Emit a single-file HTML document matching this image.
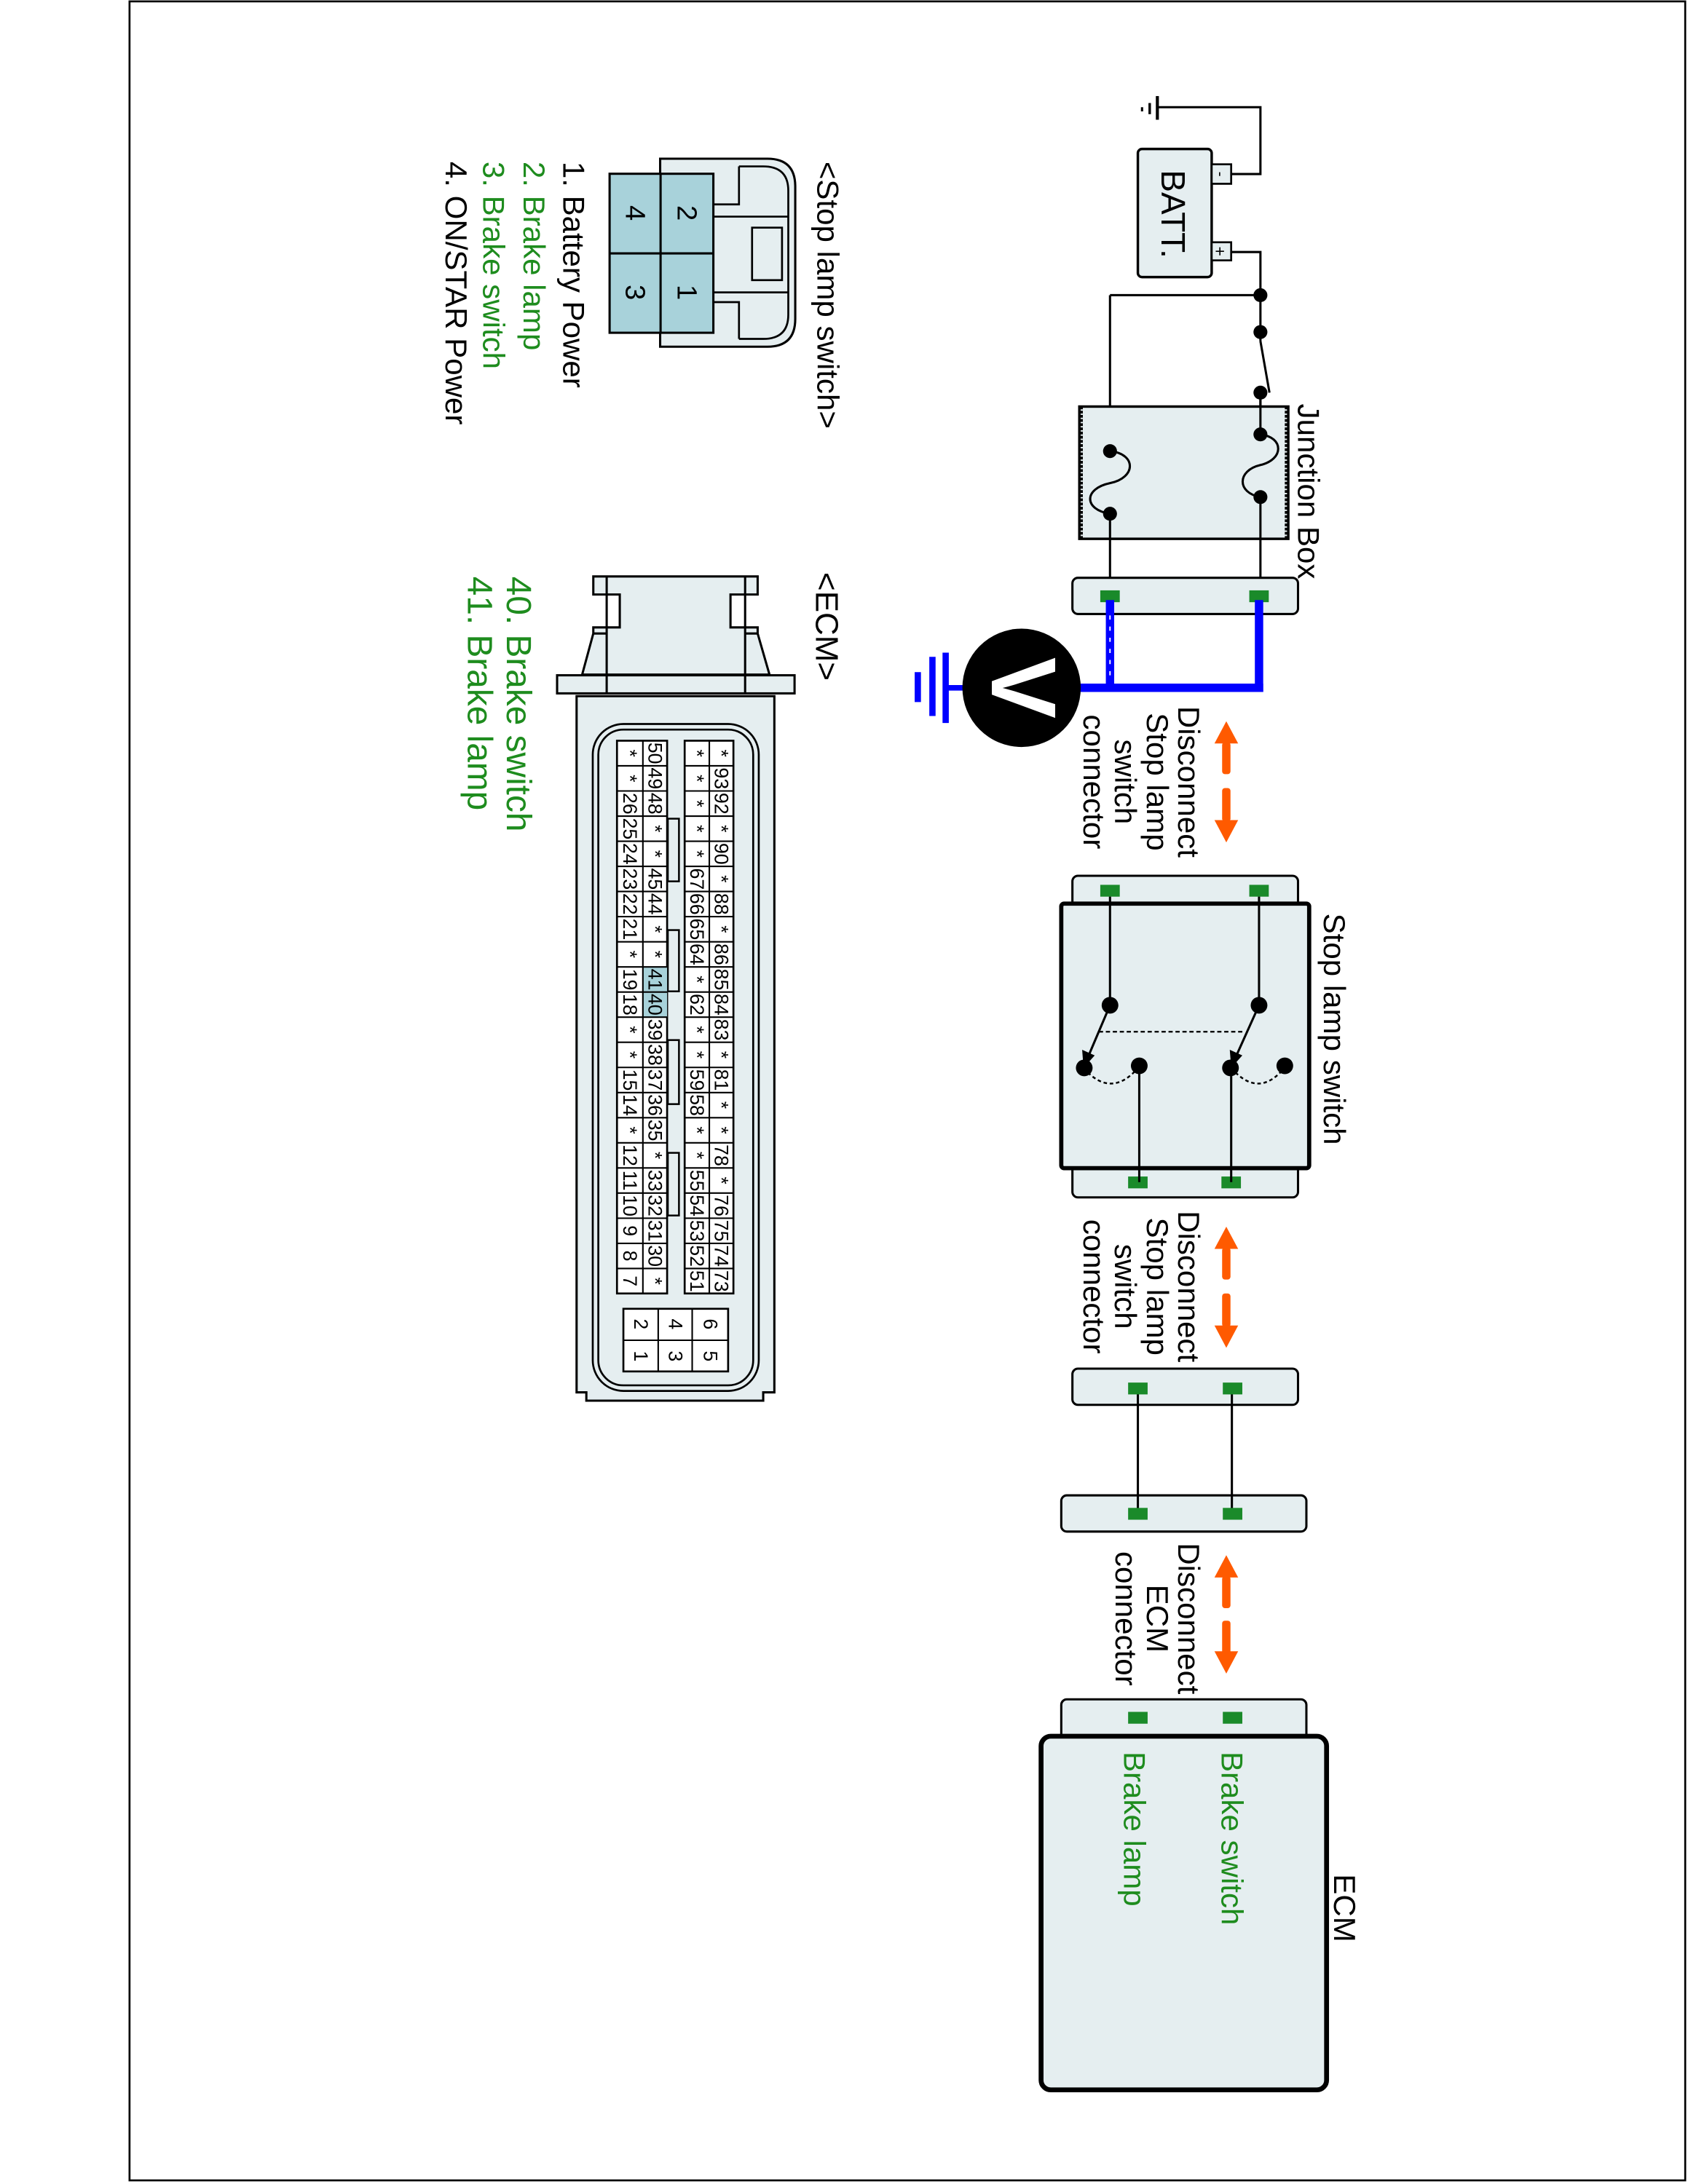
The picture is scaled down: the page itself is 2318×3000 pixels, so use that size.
<!DOCTYPE html>
<html><head><meta charset="utf-8"><style>
html,body{margin:0;padding:0;background:#fff;}
svg{display:block;}
text{font-family:"Liberation Sans",Arial,sans-serif;}
</style></head><body>
<svg width="2318" height="3000" viewBox="0 0 1212 1568.6" xmlns="http://www.w3.org/2000/svg">
<rect x="93" y="1" width="1117" height="1565" fill="none" stroke="#000" stroke-width="1.4"/>

<!-- Ground + battery -->
<g stroke="#000" fill="none" stroke-width="1.6">
<polyline points="884,125 905,125 905,77 831,77"/>
<line x1="831" y1="69" x2="831" y2="86" stroke-width="2.2"/>
<line x1="825.5" y1="74" x2="825.5" y2="82" stroke-width="1.8"/>
<line x1="820" y1="77" x2="820" y2="80" stroke-width="1.6"/>
<polyline points="884,181 905,181 905,245"/>
<line x1="905" y1="212" x2="797" y2="212"/>
<line x1="797" y1="212" x2="797" y2="324"/>
<line x1="905" y1="245" x2="911.5" y2="282"/>
<line x1="905" y1="282" x2="905" y2="312"/>
</g>
<rect x="817" y="107" width="53" height="92" rx="3" fill="#e5eef0" stroke="#000" stroke-width="1.8"/>
<rect x="870" y="118" width="14" height="14" fill="#e5eef0" stroke="#000" stroke-width="1.4"/>
<rect x="870" y="174" width="14" height="13" fill="#e5eef0" stroke="#000" stroke-width="1.4"/>
<text transform="translate(876,125) rotate(90)" font-size="11" text-anchor="middle" dominant-baseline="central">-</text>
<text transform="translate(876,180.5) rotate(90)" font-size="12" text-anchor="middle" dominant-baseline="central">+</text>
<text transform="translate(834,122) rotate(90)" font-size="24">BATT.</text>
<g fill="#000"><circle cx="905" cy="212" r="5"/><circle cx="905" cy="238.5" r="5"/><circle cx="905" cy="282" r="5"/></g>

<!-- Junction box -->
<rect x="775" y="292" width="150" height="95" fill="#e5eef0" stroke="#000" stroke-width="1.8"/>
<line x1="776" y1="292" x2="776" y2="387" stroke="#000" stroke-width="3" stroke-dasharray="2,1"/>
<line x1="924" y1="292" x2="924" y2="387" stroke="#000" stroke-width="3" stroke-dasharray="2,1"/>
<g stroke="#000" stroke-width="1.6" fill="none">
<line x1="905" y1="282" x2="905" y2="312"/>
<path d="M905,312 C922,314 922,330 905,334 C888,338 888,354 905,357"/>
<path d="M797,324 C816,326 816,343 797,347 C778,351 778,366 797,369"/>
<line x1="905" y1="357" x2="905" y2="428"/>
<line x1="797" y1="369" x2="797" y2="428"/>
</g>
<g fill="#000"><circle cx="905" cy="312" r="5"/><circle cx="905" cy="357" r="5"/><circle cx="797" cy="324" r="5"/><circle cx="797" cy="369" r="5"/></g>
<text transform="translate(932,290) rotate(90)" font-size="22">Junction Box</text>
<rect x="770" y="415" width="162" height="26" rx="4" fill="#e5eef0" stroke="#000" stroke-width="1.6"/>
<rect x="790" y="424" width="14" height="8.5" fill="#1a8a2a"/>
<rect x="897" y="424" width="14" height="8.5" fill="#1a8a2a"/>

<!-- Blue -->
<g stroke="#0000ff" stroke-width="6" fill="none" stroke-linecap="square">
<line x1="797" y1="434" x2="797" y2="494"/>
<line x1="904" y1="434" x2="904" y2="494"/>
<line x1="760" y1="494" x2="904" y2="494"/>
<line x1="679" y1="494" x2="700" y2="494" stroke-width="4"/>
<line x1="679" y1="471" x2="679" y2="517" stroke-width="4.5"/>
<line x1="669.5" y1="474" x2="669.5" y2="512" stroke-width="4.5"/>
<line x1="659" y1="485" x2="659" y2="502" stroke-width="4.5"/>
</g>
<line x1="797" y1="442" x2="797" y2="490" stroke="#fff" stroke-width="1" stroke-dasharray="3,5"/>
<circle cx="733.5" cy="494" r="42.5" fill="#000"/>
<text transform="translate(735,494) rotate(90)" font-size="66" font-weight="bold" fill="#fff" text-anchor="middle" dominant-baseline="central">V</text>

<!-- Arrows -->
<g fill="#ff5a00">
<polygon points="880.5,518 872,534 889,534"/><rect x="877.5" y="533" width="6" height="23" rx="2"/>
<rect x="877.5" y="566" width="6" height="24" rx="2"/><polygon points="880.5,605 872,589 889,589"/>
<polygon points="880.5,881 872,897 889,897"/><rect x="877.5" y="896" width="6" height="23" rx="2"/>
<rect x="877.5" y="929" width="6" height="24" rx="2"/><polygon points="880.5,968 872,952 889,952"/>
<polygon points="880.5,1117 872,1133 889,1133"/><rect x="877.5" y="1132" width="6" height="23" rx="2"/>
<rect x="877.5" y="1164" width="6" height="24" rx="2"/><polygon points="880.5,1202 872,1186 889,1186"/>
</g>
<g font-size="22" text-anchor="middle">
<text transform="translate(846,561.5) rotate(90)">Disconnect</text>
<text transform="translate(823.5,561.5) rotate(90)">Stop lamp</text>
<text transform="translate(800.5,561.5) rotate(90)">switch</text>
<text transform="translate(778,561.5) rotate(90)">connector</text>
<text transform="translate(846,924) rotate(90)">Disconnect</text>
<text transform="translate(823.5,924) rotate(90)">Stop lamp</text>
<text transform="translate(800.5,924) rotate(90)">switch</text>
<text transform="translate(778,924) rotate(90)">connector</text>
<text transform="translate(846,1162.5) rotate(90)">Disconnect</text>
<text transform="translate(823.5,1162.5) rotate(90)">ECM</text>
<text transform="translate(801,1162.5) rotate(90)">connector</text>
</g>

<!-- Stop lamp switch -->
<rect x="770" y="629" width="162" height="24" rx="4" fill="#e5eef0" stroke="#000" stroke-width="1.6"/>
<rect x="770" y="836" width="162" height="24" rx="4" fill="#e5eef0" stroke="#000" stroke-width="1.6"/>
<rect x="762" y="649" width="178" height="190" rx="2" fill="#e5eef0" stroke="#000" stroke-width="3"/>
<rect x="790" y="635.5" width="14" height="8.5" fill="#1a8a2a"/>
<rect x="897" y="635.5" width="14" height="8.5" fill="#1a8a2a"/>
<rect x="810" y="845" width="14" height="8.5" fill="#1a8a2a"/>
<rect x="877" y="845" width="14" height="8.5" fill="#1a8a2a"/>
<g stroke="#000" stroke-width="1.6" fill="none">
<line x1="797" y1="644" x2="797" y2="722"/>
<line x1="904" y1="644" x2="904" y2="722"/>
<line x1="797" y1="722" x2="780" y2="762"/>
<line x1="904" y1="722" x2="886" y2="762"/>
<line x1="818" y1="766" x2="818" y2="849"/>
<line x1="884" y1="767" x2="884" y2="849"/>
<line x1="789" y1="741" x2="893" y2="741" stroke-width="1.2" stroke-dasharray="3,2"/>
<path d="M778,767 Q798,790 818,766" stroke-width="1.3" stroke-dasharray="2.5,2"/>
<path d="M884,767 Q904,790 923,766" stroke-width="1.3" stroke-dasharray="2.5,2"/>
</g>
<g fill="#000">
<polygon points="778,767 777,754 786,758"/>
<polygon points="884,767 883,754 892,758"/>
<circle cx="797" cy="722" r="6"/><circle cx="904" cy="722" r="6"/>
<circle cx="778.5" cy="767" r="6"/><circle cx="818" cy="765.5" r="6"/>
<circle cx="883.5" cy="767" r="6"/><circle cx="922.5" cy="765.5" r="6"/>
</g>
<text transform="translate(950.5,656) rotate(90)" font-size="22">Stop lamp switch</text>

<!-- Connectors between -->
<rect x="770" y="983" width="162" height="26" rx="4" fill="#e5eef0" stroke="#000" stroke-width="1.6"/>
<rect x="762" y="1074" width="176" height="26" rx="4" fill="#e5eef0" stroke="#000" stroke-width="1.6"/>
<g stroke="#000" stroke-width="1.6"><line x1="817" y1="997" x2="817" y2="1087"/><line x1="884.5" y1="997" x2="884.5" y2="1087"/></g>
<rect x="810" y="993" width="14" height="8.5" fill="#1a8a2a"/>
<rect x="878" y="993" width="14" height="8.5" fill="#1a8a2a"/>
<rect x="810" y="1083" width="14" height="8.5" fill="#1a8a2a"/>
<rect x="878" y="1083" width="14" height="8.5" fill="#1a8a2a"/>

<!-- ECM -->
<rect x="762" y="1220.5" width="176" height="30" rx="4" fill="#e5eef0" stroke="#000" stroke-width="1.6"/>
<rect x="747.5" y="1247" width="205" height="254" rx="7" fill="#e5eef0" stroke="#000" stroke-width="3.5"/>
<rect x="810" y="1229.5" width="14" height="8.5" fill="#1a8a2a"/>
<rect x="878" y="1229.5" width="14" height="8.5" fill="#1a8a2a"/>
<text transform="translate(958,1346) rotate(90)" font-size="22">ECM</text>
<text transform="translate(877,1258) rotate(90)" font-size="22" fill="#1e8c1e">Brake switch</text>
<text transform="translate(807,1258) rotate(90)" font-size="22" fill="#1e8c1e">Brake lamp</text>

<!-- Stop lamp switch connector view -->
<text transform="translate(587,116) rotate(90)" font-size="22">&lt;Stop lamp switch&gt;</text>
<path d="M474,114 L551,114 Q571,114 571,134 L571,229 Q571,249 551,249 L474,249 Z" fill="#e5eef0" stroke="#000" stroke-width="1.6"/>
<path d="M530.6,119.5 L548,119.5 Q566,119.5 566,137 L566,226 Q566,243.4 548,243.4 L530.6,243.4" fill="none" stroke="#000" stroke-width="1.4"/>
<g stroke="#000" stroke-width="1.4" fill="none">
<polyline points="530.6,119.5 530.6,146.8 512.2,146.8"/>
<polyline points="530.6,243.4 530.6,217 512.2,217"/>
<polyline points="512.2,155.6 566.3,155.6"/>
<polyline points="512.2,210 566.3,210"/>
<rect x="540" y="163.5" width="21.5" height="37.7"/>
</g>
<rect x="437.7" y="124.8" width="74.5" height="114.2" fill="#a8d2da" stroke="#000" stroke-width="1.6"/>
<line x1="474.3" y1="124.8" x2="474.3" y2="239" stroke="#000" stroke-width="1.6"/>
<line x1="437.7" y1="182" x2="512.2" y2="182" stroke="#000" stroke-width="1.6"/>
<g font-size="20" text-anchor="middle" dominant-baseline="central">
<text transform="translate(493,153) rotate(90)">2</text>
<text transform="translate(493,210) rotate(90)">1</text>
<text transform="translate(456,153) rotate(90)">4</text>
<text transform="translate(456,210) rotate(90)">3</text>
</g>
<g font-size="22">
<text transform="translate(404.5,116) rotate(90)">1. Battery Power</text>
<text transform="translate(376,116) rotate(90)" fill="#1e8c1e">2. Brake lamp</text>
<text transform="translate(347,116) rotate(90)" fill="#1e8c1e">3. Brake switch</text>
<text transform="translate(320,116) rotate(90)">4. ON/STAR Power</text>
</g>

<!-- ECM connector view -->
<text transform="translate(586,411) rotate(90)" font-size="23">&lt;ECM&gt;</text>
<path d="M418,484.5 L426,455 L426,450.6 L445,450.6 L445,427 L426,427 L426,414 L544,414 L544,427 L524.5,427 L524.5,450.6 L544,450.6 L544,455 L552.5,484.5 Z" fill="#e5eef0" stroke="#000" stroke-width="1.6"/>
<g stroke="#000" stroke-width="1.6">
<line x1="435.6" y1="414" x2="435.6" y2="498"/><line x1="535" y1="414" x2="535" y2="498"/>
<line x1="426" y1="455" x2="435.6" y2="455"/><line x1="535" y1="455" x2="544" y2="455"/>
</g>
<rect x="400" y="485" width="170.5" height="13" fill="#e5eef0" stroke="#000" stroke-width="1.6"/>
<g stroke="#000" stroke-width="1.6"><line x1="435.6" y1="485" x2="435.6" y2="498"/><line x1="535" y1="485" x2="535" y2="498"/></g>
<path d="M414,500 L556,500 L556,1000 L548,1000 L548,1006 L421,1006 L421,1000 L414,1000 Z" fill="#e5eef0" stroke="#000" stroke-width="1.6"/>
<rect x="425.6" y="520" width="119.2" height="479" rx="22" fill="none" stroke="#000" stroke-width="1.4"/>
<rect x="429.6" y="524" width="111.2" height="471" rx="18" fill="none" stroke="#000" stroke-width="1.4"/>
<g id="grid" stroke="#000" stroke-width="1.2"></g>
<g stroke="#000" stroke-width="1.3" fill="#fff">
<rect x="479.5" y="588" width="8" height="45" fill="#e5eef0"/>
<rect x="479.5" y="668" width="8" height="44" fill="#e5eef0"/>
<rect x="479.5" y="747" width="8" height="46" fill="#e5eef0"/>
<rect x="479.5" y="828" width="8" height="45" fill="#e5eef0"/>
</g>
<g font-size="14" text-anchor="middle" dominant-baseline="central" stroke="#000" stroke-width="1.2">
<!-- rows -->
<g id="cells"></g>
</g>
<!-- Grid cells written explicitly -->
<g font-size="14.5" text-anchor="middle" dominant-baseline="central">
</g>
<g id="gridcells">
<rect x="491.6" y="532" width="35" height="397" fill="#fff" stroke="#000" stroke-width="1.4"/>
<rect x="443" y="532" width="36" height="397" fill="#fff" stroke="#000" stroke-width="1.4"/>
<rect x="461.6" y="694.4" width="17.4" height="36.1" fill="#a8d2da"/>
<g stroke="#000" stroke-width="1.1">
<line x1="509.3" y1="532" x2="509.3" y2="929"/>
<line x1="461.6" y1="532" x2="461.6" y2="929"/>
<line x1="491.6" y1="550.05" x2="526.6" y2="550.05"/><line x1="443" y1="550.05" x2="479" y2="550.05"/>
<line x1="491.6" y1="568.1" x2="526.6" y2="568.1"/><line x1="443" y1="568.1" x2="479" y2="568.1"/>
<line x1="491.6" y1="586.15" x2="526.6" y2="586.15"/><line x1="443" y1="586.15" x2="479" y2="586.15"/>
<line x1="491.6" y1="604.2" x2="526.6" y2="604.2"/><line x1="443" y1="604.2" x2="479" y2="604.2"/>
<line x1="491.6" y1="622.25" x2="526.6" y2="622.25"/><line x1="443" y1="622.25" x2="479" y2="622.25"/>
<line x1="491.6" y1="640.3" x2="526.6" y2="640.3"/><line x1="443" y1="640.3" x2="479" y2="640.3"/>
<line x1="491.6" y1="658.35" x2="526.6" y2="658.35"/><line x1="443" y1="658.35" x2="479" y2="658.35"/>
<line x1="491.6" y1="676.4" x2="526.6" y2="676.4"/><line x1="443" y1="676.4" x2="479" y2="676.4"/>
<line x1="491.6" y1="694.45" x2="526.6" y2="694.45"/><line x1="443" y1="694.45" x2="479" y2="694.45"/>
<line x1="491.6" y1="712.5" x2="526.6" y2="712.5"/><line x1="443" y1="712.5" x2="479" y2="712.5"/>
<line x1="491.6" y1="730.55" x2="526.6" y2="730.55"/><line x1="443" y1="730.55" x2="479" y2="730.55"/>
<line x1="491.6" y1="748.6" x2="526.6" y2="748.6"/><line x1="443" y1="748.6" x2="479" y2="748.6"/>
<line x1="491.6" y1="766.65" x2="526.6" y2="766.65"/><line x1="443" y1="766.65" x2="479" y2="766.65"/>
<line x1="491.6" y1="784.7" x2="526.6" y2="784.7"/><line x1="443" y1="784.7" x2="479" y2="784.7"/>
<line x1="491.6" y1="802.75" x2="526.6" y2="802.75"/><line x1="443" y1="802.75" x2="479" y2="802.75"/>
<line x1="491.6" y1="820.8" x2="526.6" y2="820.8"/><line x1="443" y1="820.8" x2="479" y2="820.8"/>
<line x1="491.6" y1="838.85" x2="526.6" y2="838.85"/><line x1="443" y1="838.85" x2="479" y2="838.85"/>
<line x1="491.6" y1="856.9" x2="526.6" y2="856.9"/><line x1="443" y1="856.9" x2="479" y2="856.9"/>
<line x1="491.6" y1="874.95" x2="526.6" y2="874.95"/><line x1="443" y1="874.95" x2="479" y2="874.95"/>
<line x1="491.6" y1="893" x2="526.6" y2="893"/><line x1="443" y1="893" x2="479" y2="893"/>
<line x1="491.6" y1="911.05" x2="526.6" y2="911.05"/><line x1="443" y1="911.05" x2="479" y2="911.05"/>
</g>
</g>
<g font-size="14" text-anchor="middle" dominant-baseline="central">
<!-- right outer col x=518 -->
<text transform="translate(518,541) rotate(90)">*</text>
<text transform="translate(518,559.1) rotate(90)">93</text>
<text transform="translate(518,577.1) rotate(90)">92</text>
<text transform="translate(518,595.2) rotate(90)">*</text>
<text transform="translate(518,613.2) rotate(90)">90</text>
<text transform="translate(518,631.3) rotate(90)">*</text>
<text transform="translate(518,649.3) rotate(90)">88</text>
<text transform="translate(518,667.4) rotate(90)">*</text>
<text transform="translate(518,685.4) rotate(90)">86</text>
<text transform="translate(518,703.5) rotate(90)">85</text>
<text transform="translate(518,721.5) rotate(90)">84</text>
<text transform="translate(518,739.6) rotate(90)">83</text>
<text transform="translate(518,757.6) rotate(90)">*</text>
<text transform="translate(518,775.7) rotate(90)">81</text>
<text transform="translate(518,793.7) rotate(90)">*</text>
<text transform="translate(518,811.8) rotate(90)">*</text>
<text transform="translate(518,829.8) rotate(90)">78</text>
<text transform="translate(518,847.9) rotate(90)">*</text>
<text transform="translate(518,865.9) rotate(90)">76</text>
<text transform="translate(518,884) rotate(90)">75</text>
<text transform="translate(518,902) rotate(90)">74</text>
<text transform="translate(518,920.1) rotate(90)">73</text>
<!-- right inner col x=500.5 -->
<text transform="translate(500.5,541) rotate(90)">*</text>
<text transform="translate(500.5,559.1) rotate(90)">*</text>
<text transform="translate(500.5,577.1) rotate(90)">*</text>
<text transform="translate(500.5,595.2) rotate(90)">*</text>
<text transform="translate(500.5,613.2) rotate(90)">*</text>
<text transform="translate(500.5,631.3) rotate(90)">67</text>
<text transform="translate(500.5,649.3) rotate(90)">66</text>
<text transform="translate(500.5,667.4) rotate(90)">65</text>
<text transform="translate(500.5,685.4) rotate(90)">64</text>
<text transform="translate(500.5,703.5) rotate(90)">*</text>
<text transform="translate(500.5,721.5) rotate(90)">62</text>
<text transform="translate(500.5,739.6) rotate(90)">*</text>
<text transform="translate(500.5,757.6) rotate(90)">*</text>
<text transform="translate(500.5,775.7) rotate(90)">59</text>
<text transform="translate(500.5,793.7) rotate(90)">58</text>
<text transform="translate(500.5,811.8) rotate(90)">*</text>
<text transform="translate(500.5,829.8) rotate(90)">*</text>
<text transform="translate(500.5,847.9) rotate(90)">55</text>
<text transform="translate(500.5,865.9) rotate(90)">54</text>
<text transform="translate(500.5,884) rotate(90)">53</text>
<text transform="translate(500.5,902) rotate(90)">52</text>
<text transform="translate(500.5,920.1) rotate(90)">51</text>
<!-- left inner col x=470.3 -->
<text transform="translate(470.3,541) rotate(90)">50</text>
<text transform="translate(470.3,559.1) rotate(90)">49</text>
<text transform="translate(470.3,577.1) rotate(90)">48</text>
<text transform="translate(470.3,595.2) rotate(90)">*</text>
<text transform="translate(470.3,613.2) rotate(90)">*</text>
<text transform="translate(470.3,631.3) rotate(90)">45</text>
<text transform="translate(470.3,649.3) rotate(90)">44</text>
<text transform="translate(470.3,667.4) rotate(90)">*</text>
<text transform="translate(470.3,685.4) rotate(90)">*</text>
<text transform="translate(470.3,703.5) rotate(90)">41</text>
<text transform="translate(470.3,721.5) rotate(90)">40</text>
<text transform="translate(470.3,739.6) rotate(90)">39</text>
<text transform="translate(470.3,757.6) rotate(90)">38</text>
<text transform="translate(470.3,775.7) rotate(90)">37</text>
<text transform="translate(470.3,793.7) rotate(90)">36</text>
<text transform="translate(470.3,811.8) rotate(90)">35</text>
<text transform="translate(470.3,829.8) rotate(90)">*</text>
<text transform="translate(470.3,847.9) rotate(90)">33</text>
<text transform="translate(470.3,865.9) rotate(90)">32</text>
<text transform="translate(470.3,884) rotate(90)">31</text>
<text transform="translate(470.3,902) rotate(90)">30</text>
<text transform="translate(470.3,920.1) rotate(90)">*</text>
<!-- left outer col x=452.3 -->
<text transform="translate(452.3,541) rotate(90)">*</text>
<text transform="translate(452.3,559.1) rotate(90)">*</text>
<text transform="translate(452.3,577.1) rotate(90)">26</text>
<text transform="translate(452.3,595.2) rotate(90)">25</text>
<text transform="translate(452.3,613.2) rotate(90)">24</text>
<text transform="translate(452.3,631.3) rotate(90)">23</text>
<text transform="translate(452.3,649.3) rotate(90)">22</text>
<text transform="translate(452.3,667.4) rotate(90)">21</text>
<text transform="translate(452.3,685.4) rotate(90)">*</text>
<text transform="translate(452.3,703.5) rotate(90)">19</text>
<text transform="translate(452.3,721.5) rotate(90)">18</text>
<text transform="translate(452.3,739.6) rotate(90)">*</text>
<text transform="translate(452.3,757.6) rotate(90)">*</text>
<text transform="translate(452.3,775.7) rotate(90)">15</text>
<text transform="translate(452.3,793.7) rotate(90)">14</text>
<text transform="translate(452.3,811.8) rotate(90)">*</text>
<text transform="translate(452.3,829.8) rotate(90)">12</text>
<text transform="translate(452.3,847.9) rotate(90)">11</text>
<text transform="translate(452.3,865.9) rotate(90)">10</text>
<text transform="translate(452.3,884) rotate(90)">9</text>
<text transform="translate(452.3,902) rotate(90)">8</text>
<text transform="translate(452.3,920.1) rotate(90)">7</text>
</g>
<!-- bottom small grid -->
<rect x="447.6" y="940" width="75.2" height="45" fill="#fff" stroke="#000" stroke-width="1.4"/>
<g stroke="#000" stroke-width="1.1">
<line x1="472.6" y1="940" x2="472.6" y2="985"/><line x1="497" y1="940" x2="497" y2="985"/>
<line x1="447.6" y1="962.6" x2="522.8" y2="962.6"/>
</g>
<g font-size="14" text-anchor="middle" dominant-baseline="central">
<text transform="translate(510,951) rotate(90)">6</text>
<text transform="translate(510,974) rotate(90)">5</text>
<text transform="translate(485,951) rotate(90)">4</text>
<text transform="translate(485,974) rotate(90)">3</text>
<text transform="translate(460,951) rotate(90)">2</text>
<text transform="translate(460,974) rotate(90)">1</text>
</g>
<g font-size="25" fill="#1e8c1e">
<text transform="translate(364,414) rotate(90)">40. Brake switch</text>
<text transform="translate(336,414) rotate(90)">41. Brake lamp</text>
</g>
</svg>
</body></html>
